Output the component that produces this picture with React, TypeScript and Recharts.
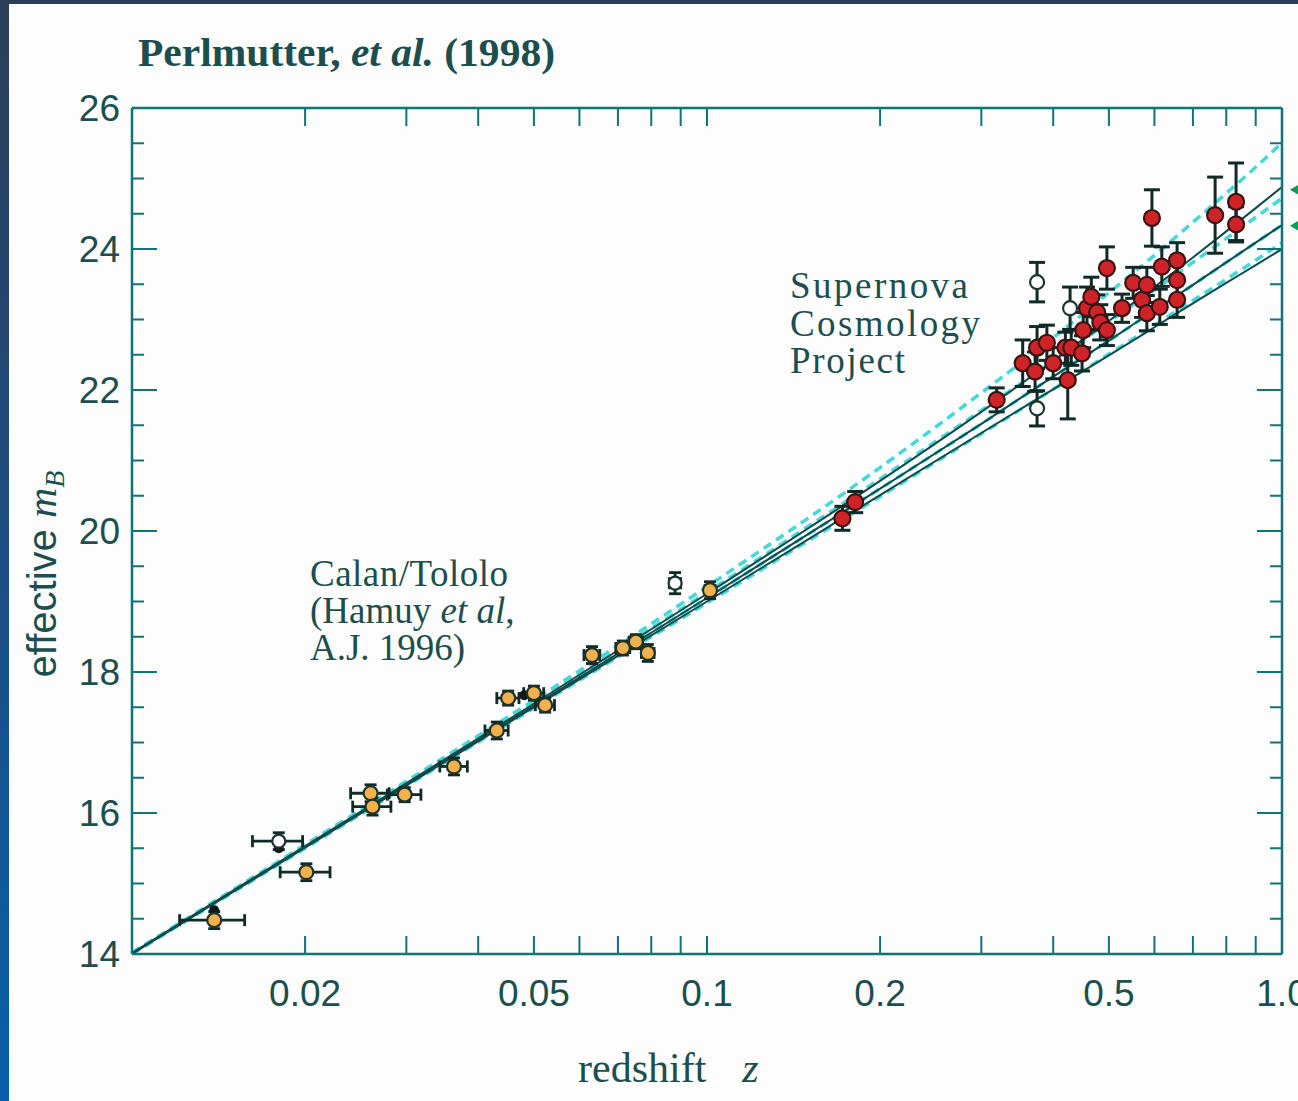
import {
  ComposedChart,
  XAxis,
  YAxis,
  Line,
  Scatter,
  ErrorBar,
  ReferenceDot
} from "recharts";

const AXIS = "#0f7474";
const INK = "#1c4e4e";
const SANS = "'Liberation Sans', Arial, sans-serif";
const SERIF = "'Liberation Serif', 'Times New Roman', serif";

// ticks
const xMajorTicks = [0.02, 0.05, 0.1, 0.2, 0.5, 1.0];
const xTickLabels = ["0.02", "0.05", "0.1", "0.2", "0.5", "1.0"];
const xMinorTicks = [0.03, 0.04, 0.06, 0.07, 0.08, 0.09, 0.3, 0.4, 0.6, 0.7, 0.8, 0.9];
const yTicks = [14, 14.5, 15, 15.5, 16, 16.5, 17, 17.5, 18, 18.5, 19, 19.5, 20, 20.5, 21, 21.5, 22, 22.5, 23, 23.5, 24, 24.5, 25, 25.5, 26];

// model curves (Omega_M, Omega_Lambda)
const curveZ = [0.01, 0.02, 0.05, 0.1, 0.2, 0.3, 0.4, 0.5, 0.6, 0.7, 0.8, 0.9, 1.0];
const solid00 = [14.01, 15.53, 17.55, 19.11, 20.71, 21.69, 22.41, 22.98, 23.46, 23.88, 24.25, 24.58, 24.88];
const solid10 = [14.01, 15.52, 17.52, 19.05, 20.6, 21.52, 22.19, 22.7, 23.13, 23.49, 23.81, 24.09, 24.34];
const solid20 = [14.0, 15.51, 17.5, 19.0, 20.51, 21.39, 22.01, 22.49, 22.89, 23.23, 23.52, 23.77, 24.0];
const flat01 = [14.02, 15.55, 17.6, 19.21, 20.9, 21.96, 22.74, 23.38, 23.91, 24.38, 24.79, 25.16, 25.51];
const flat55 = [14.01, 15.53, 17.56, 19.13, 20.74, 21.71, 22.41, 22.97, 23.42, 23.81, 24.15, 24.45, 24.72];
const flat10 = [14.01, 15.52, 17.52, 19.05, 20.6, 21.52, 22.19, 22.7, 23.13, 23.49, 23.81, 24.09, 24.34];
const flat15 = [14.0, 15.5, 17.49, 18.98, 20.49, 21.38, 22.01, 22.51, 22.92, 23.27, 23.57, 23.84, 24.09];

// Calan/Tololo supernovae
const calanZ = [0.0139, 0.0201, 0.026, 0.0262, 0.0298, 0.0363, 0.0431, 0.0451, 0.05, 0.0523, 0.0631, 0.0714, 0.0752, 0.0789, 0.1012];
const calanM = [14.48, 15.16, 16.28, 16.09, 16.26, 16.66, 17.17, 17.63, 17.7, 17.53, 18.24, 18.34, 18.43, 18.27, 19.16];
const calanErr = [0.12, 0.12, 0.12, 0.12, 0.1, 0.12, 0.12, 0.1, 0.1, 0.1, 0.12, 0.1, 0.1, 0.12, 0.12];
const calanZErr = [0.0018, 0.002, 0.002, 0.002, 0.002, 0.002, 0.002, 0.002, 0.002, 0.002, 0.002, 0.002, 0.002, 0.002, 0.002];

const calanOpenZ = [0.018, 0.088];
const calanOpenM = [15.6, 19.26];
const calanOpenErr = [0.12, 0.15];
const calanOpenZErr = [0.0018, 0.002];

const darkZ = [0.0139, 0.018, 0.0481];
const darkM = [14.62, 15.5, 17.67];

// Supernova Cosmology Project
const scpZ = [0.172, 0.181, 0.319, 0.354, 0.372, 0.375, 0.39, 0.4, 0.42, 0.424, 0.43, 0.449, 0.451, 0.458, 0.466, 0.477, 0.483, 0.496, 0.496, 0.527, 0.551, 0.571, 0.582, 0.582, 0.594, 0.613, 0.618, 0.657, 0.657, 0.657, 0.765, 0.832, 0.832];
const scpM = [20.18, 20.41, 21.86, 22.38, 22.26, 22.6, 22.67, 22.38, 22.6, 22.14, 22.6, 22.52, 22.85, 23.16, 23.32, 23.1, 22.96, 22.85, 23.73, 23.16, 23.52, 23.28, 23.49, 23.09, 24.44, 23.18, 23.75, 23.84, 23.56, 23.28, 24.48, 24.67, 24.35];
const scpErr = [0.17, 0.15, 0.17, 0.33, 0.28, 0.3, 0.25, 0.22, 0.22, 0.55, 0.25, 0.25, 0.25, 0.3, 0.28, 0.25, 0.25, 0.22, 0.3, 0.2, 0.22, 0.25, 0.25, 0.25, 0.4, 0.25, 0.28, 0.25, 0.25, 0.25, 0.54, 0.55, 0.25];

const scpOpenZ = [0.375, 0.375, 0.428];
const scpOpenM = [23.53, 21.74, 23.16];
const scpOpenErr = [0.28, 0.25, 0.3];

const arrowM = [24.84, 24.33];

const curve = (ms: number[]) => curveZ.map((z, i) => ({ z, m: ms[i] }));
const points = (zs: number[], ms: number[], errs?: number[], zErrs?: number[]) =>
  zs.map((z, i) => ({ z, m: ms[i], dm: errs ? errs[i] : 0, dz: zErrs ? zErrs[i] : 0 }));

const XTickBottom = (props: any) => {
  const { x, y, payload } = props;
  const idx = xMajorTicks.indexOf(payload.value);
  return (
    <g>
      <line x1={x} x2={x} y1={y} y2={y - 18} stroke={AXIS} strokeWidth={2} />
      {idx >= 0 && (
        <text x={x} y={y + 52} textAnchor="middle" fontFamily={SANS} fontSize={37} fill={INK}>
          {xTickLabels[idx]}
        </text>
      )}
    </g>
  );
};

const XTickTop = (props: any) => {
  const { x, y } = props;
  return <line x1={x} x2={x} y1={y} y2={y + 18} stroke={AXIS} strokeWidth={2} />;
};

const YTickLeft = (props: any) => {
  const { x, y, payload } = props;
  const major = payload.value % 2 === 0;
  return (
    <g>
      <line x1={x} x2={x + (major ? 25 : 12)} y1={y} y2={y} stroke={AXIS} strokeWidth={2} />
      {major && (
        <text x={x - 12} y={y + 13} textAnchor="end" fontFamily={SANS} fontSize={37} fill={INK}>
          {payload.value}
        </text>
      )}
    </g>
  );
};

const YTickRight = (props: any) => {
  const { x, y, payload } = props;
  const major = payload.value % 2 === 0;
  return <line x1={x} x2={x - (major ? 25 : 12)} y1={y} y2={y} stroke={AXIS} strokeWidth={2} />;
};

const dot = (fill: string, r: number, stroke: string) => (p: any) => (
  <circle cx={p.cx} cy={p.cy} r={r} fill={fill} stroke={stroke} strokeWidth={2.2} />
);

const Arrow = (p: any) => (
  <polygon
    points={`${p.cx + 8},${p.cy} ${p.cx + 18},${p.cy - 6} ${p.cx + 18},${p.cy + 6}`}
    fill="#0b9a55"
  />
);

const ERR = "#102a28";

const App = () => {
  const solidLines = [solid00, solid10, solid20];
  const dashLines = [flat01, flat55, flat10, flat15];
  return (
    <div
      style={{
        position: "absolute",
        left: 0,
        top: 0,
        width: 1298,
        height: 1101,
        overflow: "hidden",
        background: "linear-gradient(180deg, #2c3e58 0%, #1b4f86 55%, #0860a8 100%)"
      }}
    >
      <div style={{ position: "absolute", left: 9, top: 4, right: 0, bottom: 0, background: "#fdfdfd" }} />
      <div style={{ position: "absolute", left: 0, top: 0 }}>
        <ComposedChart width={1298} height={1101} margin={{ top: 0, right: 0, bottom: 0, left: 0 }}>
          <XAxis
            xAxisId="b"
            dataKey="z"
            type="number"
            scale="log"
            domain={[0.01, 1]}
            allowDataOverflow
            ticks={[...xMajorTicks, ...xMinorTicks]}
            interval={0}
            height={147}
            tickSize={0}
            tickMargin={0}
            tickLine={false}
            axisLine={{ stroke: AXIS, strokeWidth: 2.5 }}
            tick={(p: any) => <XTickBottom {...p} />}
          />
          <XAxis
            xAxisId="t"
            orientation="top"
            dataKey="z"
            type="number"
            scale="log"
            domain={[0.01, 1]}
            allowDataOverflow
            ticks={[...xMajorTicks, ...xMinorTicks]}
            interval={0}
            height={108}
            tickSize={0}
            tickMargin={0}
            tickLine={false}
            axisLine={{ stroke: AXIS, strokeWidth: 2.5 }}
            tick={(p: any) => <XTickTop {...p} />}
          />
          <YAxis
            yAxisId="l"
            dataKey="m"
            type="number"
            domain={[14, 26]}
            allowDataOverflow
            ticks={yTicks}
            interval={0}
            width={132}
            tickSize={0}
            tickMargin={0}
            tickLine={false}
            axisLine={{ stroke: AXIS, strokeWidth: 2.5 }}
            tick={(p: any) => <YTickLeft {...p} />}
          />
          <YAxis
            yAxisId="r"
            orientation="right"
            dataKey="m"
            type="number"
            domain={[14, 26]}
            allowDataOverflow
            ticks={yTicks}
            interval={0}
            width={16}
            tickSize={0}
            tickMargin={0}
            tickLine={false}
            axisLine={{ stroke: AXIS, strokeWidth: 2.5 }}
            tick={(p: any) => <YTickRight {...p} />}
          />

          {dashLines.map((ms, i) => (
            <Line
              key={`d${i}`}
              xAxisId="b"
              yAxisId="l"
              data={curve(ms)}
              dataKey="m"
              type="monotone"
              stroke="#45d8d8"
              strokeWidth={3.5}
              strokeDasharray="9 6"
              dot={false}
              isAnimationActive={false}
            />
          ))}
          {solidLines.map((ms, i) => (
            <Line
              key={`s${i}`}
              xAxisId="b"
              yAxisId="l"
              data={curve(ms)}
              dataKey="m"
              type="monotone"
              stroke="#0e4a4a"
              strokeWidth={2}
              dot={false}
              isAnimationActive={false}
            />
          ))}

          <Scatter
            xAxisId="b"
            yAxisId="l"
            data={points(darkZ, darkM)}
            shape={dot("#101a18", 4, "#101a18")}
            isAnimationActive={false}
          />
          <Scatter
            xAxisId="b"
            yAxisId="l"
            data={points(calanOpenZ, calanOpenM, calanOpenErr, calanOpenZErr)}
            shape={dot("#ffffff", 6.5, "#1d3431")}
            isAnimationActive={false}
          >
            <ErrorBar dataKey="dm" direction="y" width={6} stroke={ERR} strokeWidth={2.8} />
            <ErrorBar dataKey="dz" direction="x" width={6} stroke={ERR} strokeWidth={2.8} />
          </Scatter>
          <Scatter
            xAxisId="b"
            yAxisId="l"
            data={points(calanZ, calanM, calanErr, calanZErr)}
            shape={dot("#f3b14e", 7, "#1f3326")}
            isAnimationActive={false}
          >
            <ErrorBar dataKey="dm" direction="y" width={6} stroke={ERR} strokeWidth={2.8} />
            <ErrorBar dataKey="dz" direction="x" width={6} stroke={ERR} strokeWidth={2.8} />
          </Scatter>
          <Scatter
            xAxisId="b"
            yAxisId="l"
            data={points(scpOpenZ, scpOpenM, scpOpenErr)}
            shape={dot("#ffffff", 7, "#1d3431")}
            isAnimationActive={false}
          >
            <ErrorBar dataKey="dm" direction="y" width={8} stroke={ERR} strokeWidth={3} />
          </Scatter>
          <Scatter
            xAxisId="b"
            yAxisId="l"
            data={points(scpZ, scpM, scpErr)}
            shape={dot("#cf2328", 8, "#3a1414")}
            isAnimationActive={false}
          >
            <ErrorBar dataKey="dm" direction="y" width={8} stroke={ERR} strokeWidth={3} />
          </Scatter>

          {arrowM.map((m, i) => (
            <ReferenceDot
              key={`a${i}`}
              xAxisId="b"
              yAxisId="l"
              x={1}
              y={m}
              ifOverflow="visible"
              shape={Arrow}
            />
          ))}
        </ComposedChart>
      </div>

      <svg
        width={1298}
        height={1101}
        style={{ position: "absolute", left: 0, top: 0, pointerEvents: "none" }}
      >
        <text
          x={138}
          y={66}
          fontFamily={SERIF}
          fontWeight="bold"
          fontSize={39}
          fill={INK}
          textLength={417}
          lengthAdjust="spacingAndGlyphs"
        >
          <tspan>Perlmutter, </tspan>
          <tspan fontStyle="italic">et al.</tspan>
          <tspan> (1998)</tspan>
        </text>

        <g fontFamily={SERIF} fontSize={37} fill={INK}>
          <text x={790} y={298} textLength={178} lengthAdjust="spacing">Supernova</text>
          <text x={790} y={336} textLength={190} lengthAdjust="spacing">Cosmology</text>
          <text x={790} y={373} textLength={115} lengthAdjust="spacing">Project</text>

          <text x={310} y={586} textLength={198} lengthAdjust="spacing">Calan/Tololo</text>
          <text x={310} y={623}>
            <tspan>(Hamuy </tspan>
            <tspan fontStyle="italic">et al</tspan>
            <tspan>,</tspan>
          </text>
          <text x={310} y={660}>A.J. 1996)</text>
        </g>

        <text x={578} y={1082} fontFamily={SERIF} fontSize={42} fill={INK}>
          <tspan>redshift</tspan>
          <tspan dx={36} fontStyle="italic">z</tspan>
        </text>

        <text
          transform="translate(56, 574) rotate(-90)"
          textAnchor="middle"
          fontFamily={SANS}
          fontSize={40}
          fill={INK}
        >
          <tspan>effective </tspan>
          <tspan fontFamily={SERIF} fontStyle="italic" fontSize={42}>m</tspan>
          <tspan fontFamily={SERIF} fontStyle="italic" fontSize={28} dy={8}>B</tspan>
        </text>
      </svg>
    </div>
  );
};

export default App;
